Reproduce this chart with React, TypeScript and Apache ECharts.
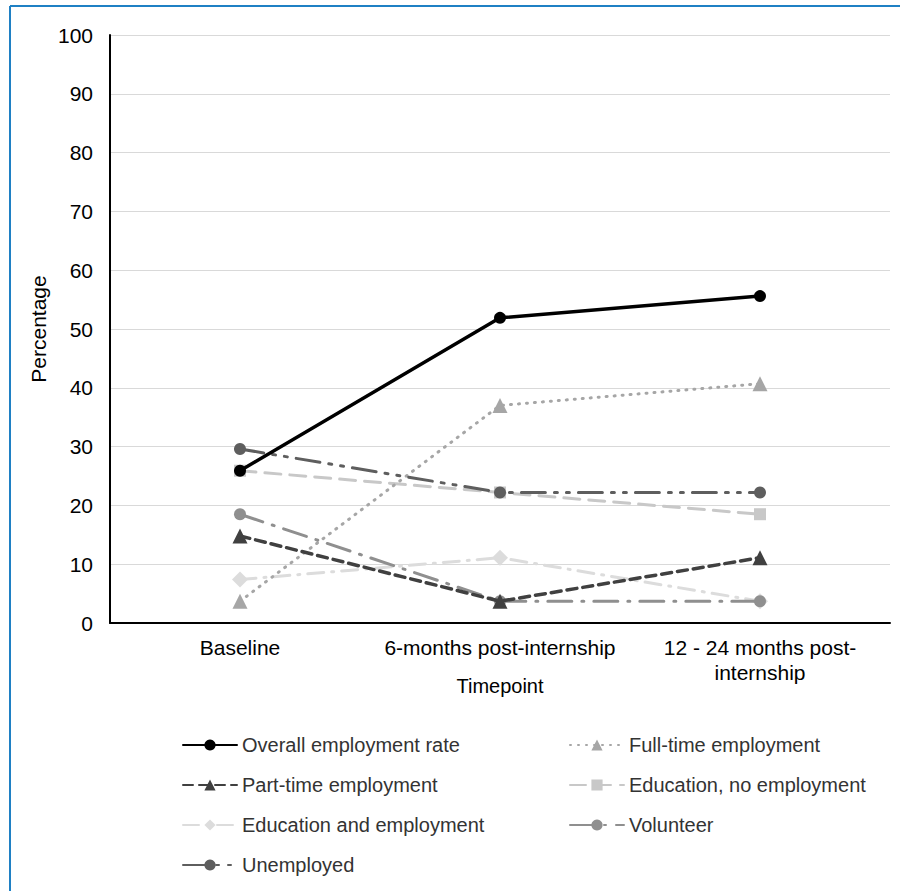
import React, { useEffect, useRef } from "react";
import * as echarts from "echarts";

const timepoints = ["Baseline", "6-months post-internship", "12 - 24 months post-\ninternship"];
const yTicks = { min: 0, max: 100, interval: 10 };

const overallEmployment = [25.9, 51.9, 55.6];
const fullTime = [3.7, 37.0, 40.7];
const partTime = [14.8, 3.7, 11.1];
const educationNoEmployment = [25.9, 22.2, 18.5];
const educationAndEmployment = [7.4, 11.1, 3.7];
const volunteer = [18.5, 3.7, 3.7];
const unemployed = [29.6, 22.2, 22.2];

const seriesDefs = [
  { name: "Overall employment rate", data: overallEmployment, color: "#000000", dash: "solid" as any, symbol: "circle", size: 12, width: 3.5, z: 10 },
  { name: "Full-time employment", data: fullTime, color: "#a6a6a6", dash: [1, 7], symbol: "triangle", size: 15, width: 3, z: 4 },
  { name: "Part-time employment", data: partTime, color: "#404040", dash: [10, 6], symbol: "triangle", size: 15, width: 3.5, z: 6 },
  { name: "Education, no employment", data: educationNoEmployment, color: "#c8c8c8", dash: [16, 9], symbol: "rect", size: 12, width: 3, z: 3 },
  { name: "Education and employment", data: educationAndEmployment, color: "#dcdcdc", dash: [16, 8, 2, 8], symbol: "diamond", size: 16, width: 3, z: 2 },
  { name: "Volunteer", data: volunteer, color: "#8f8f8f", dash: [24, 10, 2, 10], symbol: "circle", size: 12, width: 3, z: 5 },
  { name: "Unemployed", data: unemployed, color: "#5e5e5e", dash: [24, 9, 3, 9, 3, 9], symbol: "circle", size: 12, width: 3, z: 7 },
];

export default function App() {
  const ref = useRef<HTMLDivElement>(null);

  useEffect(() => {
    if (!ref.current) return;
    const chart = echarts.init(ref.current, undefined, { renderer: "svg" });
    const font = "Liberation Sans, Arial, sans-serif";
    const legendText = { fontFamily: font, fontSize: 20, lineHeight: 20, color: "#333333" };

    chart.setOption({
      animation: false,
      backgroundColor: "#ffffff",
      textStyle: { fontFamily: font },
      grid: { left: 110, right: 10, top: 35, bottom: 268, containLabel: false },
      xAxis: {
        type: "category",
        data: timepoints,
        boundaryGap: true,
        name: "Timepoint",
        nameLocation: "middle",
        nameGap: 53,
        nameMoveOverlap: false,
        nameTextStyle: { fontFamily: font, fontSize: 20, color: "#000000" },
        axisLine: { lineStyle: { color: "#000000", width: 2 } },
        axisTick: { show: false },
        axisLabel: { fontFamily: font, fontSize: 21, color: "#000000", margin: 12, lineHeight: 25, interval: 0, verticalAlign: "top" },
      },
      yAxis: {
        type: "value",
        min: yTicks.min,
        max: yTicks.max,
        interval: yTicks.interval,
        name: "Percentage",
        nameLocation: "middle",
        nameGap: 61,
        nameRotate: 90,
        nameMoveOverlap: false,
        nameTextStyle: { fontFamily: font, fontSize: 21, color: "#000000" },
        axisLine: { show: true, lineStyle: { color: "#000000", width: 2 } },
        axisTick: { show: false },
        axisLabel: { fontFamily: font, fontSize: 21, color: "#000000", margin: 17 },
        splitLine: { lineStyle: { color: "#d9d9d9", width: 1 } },
      },
      legend: [
        {
          orient: "vertical",
          left: 177,
          top: 730,
          itemWidth: 54,
          itemHeight: 14,
          itemGap: 20,
          textStyle: legendText,
          data: ["Overall employment rate", "Part-time employment", "Education and employment", "Unemployed"],
        },
        {
          orient: "vertical",
          left: 564,
          top: 730,
          itemWidth: 54,
          itemHeight: 14,
          itemGap: 20,
          textStyle: legendText,
          data: ["Full-time employment", "Education, no employment", "Volunteer"],
        },
      ],
      series: seriesDefs.map((s) => ({
        name: s.name,
        type: "line",
        data: s.data,
        z: s.z,
        symbol: s.symbol,
        symbolSize: s.size,
        showSymbol: true,
        itemStyle: { color: s.color },
        lineStyle: { color: s.color, width: s.width, type: s.dash, cap: "round" },
      })),
      graphic: [
        { type: "line", shape: { x1: 10, y1: 6, x2: 900, y2: 6 }, style: { stroke: "#1f80c4", lineWidth: 2 } },
        { type: "line", shape: { x1: 10, y1: 6, x2: 10, y2: 891 }, style: { stroke: "#1f80c4", lineWidth: 2 } },
      ],
    });

    return () => chart.dispose();
  }, []);

  return (
    <div
      ref={ref}
      style={{ position: "fixed", left: 0, top: 0, width: 900, height: 891 }}
    />
  );
}
